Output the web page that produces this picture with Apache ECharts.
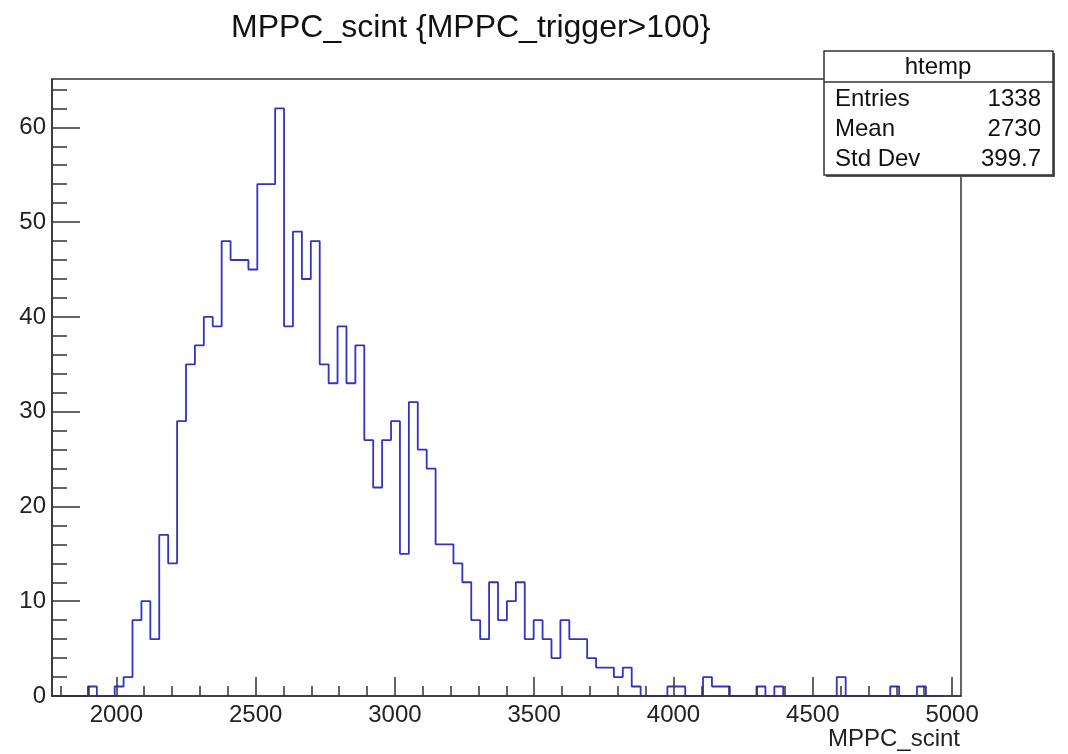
<!DOCTYPE html>
<html>
<head>
<meta charset="utf-8">
<title>MPPC_scint</title>
<script src="https://cdn.jsdelivr.net/npm/echarts@6/dist/echarts.min.js"></script>
<style>
    html, body { margin: 0; padding: 0; background: #fff; }
    #main { width: 1068px; height: 754px; }
</style>
</head>
<body>
<div id="main"></div>
<script>
// histogram binning
var binStart = 1770;
var binWidth = 32;
// counts per bin, 100 bins
var counts = [
    0, 0, 0, 0, 1, 0, 0, 1, 2, 8,
    10, 6, 17, 14, 29, 35, 37, 40, 39, 48,
    46, 46, 45, 54, 54, 62, 39, 49, 44, 48,
    35, 33, 39, 33, 37, 27, 22, 27, 29, 15,
    31, 26, 24, 16, 16, 14, 12, 8, 6, 12,
    8, 10, 12, 6, 8, 6, 4, 8, 6, 6,
    4, 3, 3, 2, 3, 1, 0, 0, 0, 1,
    1, 0, 0, 2, 1, 1, 0, 0, 0, 1,
    0, 1, 0, 0, 0, 0, 0, 0, 2, 0,
    0, 0, 0, 0, 1, 0, 0, 1, 0, 0
];
// axis ticks
var xMajorTicks = [2000, 2500, 3000, 3500, 4000, 4500, 5000];
var xMinorTicks = [1800, 1900, 2000, 2100, 2200, 2300, 2400, 2500, 2600, 2700, 2800, 2900,
    3000, 3100, 3200, 3300, 3400, 3500, 3600, 3700, 3800, 3900, 4000, 4100, 4200, 4300,
    4400, 4500, 4600, 4700, 4800, 4900, 5000];
var yMajorTicks = [0, 10, 20, 30, 40, 50, 60];
var yMinorTicks = [0, 2, 4, 6, 8, 10, 12, 14, 16, 18, 20, 22, 24, 26, 28, 30, 32, 34, 36, 38,
    40, 42, 44, 46, 48, 50, 52, 54, 56, 58, 60, 62, 64];
// stats box
var statNames = ['Entries', 'Mean', 'Std Dev'];
var statValues = ['1338', '2730', '399.7'];

var xMin = 1769, xMax = 5032, yMax = 65.1;
var font = 'Liberation Sans, Arial, Helvetica, sans-serif';
var axisColor = '#333';

// step outline: left edge of each bin, then close at the last right edge
var stepData = counts.map(function (c, i) { return [binStart + i * binWidth, c]; });
stepData.push([binStart + counts.length * binWidth, 0]);

function plain(v) { return String(v); }

function xAxisBase(major) {
    return {
        type: 'value', min: xMin, max: xMax, z: 10,
        position: 'bottom', offset: 0,
        axisLine: { show: major, onZero: false, lineStyle: { color: axisColor, width: 1.5 } },
        splitLine: { show: false },
        axisTick: {
            show: true, inside: true, length: major ? 19 : 10,
            customValues: major ? xMajorTicks : xMinorTicks,
            lineStyle: { color: axisColor, width: 1.5 }
        },
        axisLabel: {
            show: major, customValues: xMajorTicks, margin: 7, formatter: plain,
            fontFamily: font, fontSize: 24, color: '#222'
        }
    };
}
function yAxisBase(major) {
    return {
        type: 'value', min: 0, max: yMax, z: 10,
        position: 'left', offset: 0,
        axisLine: { show: major, onZero: false, lineStyle: { color: axisColor, width: 1.5 } },
        splitLine: { show: false },
        axisTick: {
            show: true, inside: true, length: major ? 28 : 15,
            customValues: major ? yMajorTicks : yMinorTicks,
            lineStyle: { color: axisColor, width: 1.5 }
        },
        axisLabel: {
            show: major, customValues: yMajorTicks, margin: 6, formatter: plain,
            fontFamily: font, fontSize: 24, color: '#222'
        }
    };
}

var statChildren = [
    { type: 'rect', shape: { x: 826, y: 53, width: 229, height: 124 }, style: { fill: '#555' } },
    { type: 'rect', shape: { x: 824, y: 51, width: 229, height: 124 },
      style: { fill: '#fff', stroke: '#333', lineWidth: 1.5 } },
    { type: 'line', shape: { x1: 824, y1: 82, x2: 1053, y2: 82 },
      style: { stroke: '#333', lineWidth: 1.5 } },
    { type: 'text', x: 938, y: 67,
      style: { text: 'htemp', font: '24px ' + font, fill: '#111', align: 'center', verticalAlign: 'middle' } }
];
statNames.forEach(function (n, i) {
    statChildren.push({ type: 'text', x: 835, y: 99 + i * 30,
        style: { text: n, font: '24px ' + font, fill: '#111', align: 'left', verticalAlign: 'middle' } });
    statChildren.push({ type: 'text', x: 1041, y: 99 + i * 30,
        style: { text: statValues[i], font: '24px ' + font, fill: '#111', align: 'right', verticalAlign: 'middle' } });
});

var chart = echarts.init(document.getElementById('main'));
chart.setOption({
    animation: false,
    backgroundColor: '#fff',
    title: {
        text: 'MPPC_scint {MPPC_trigger>100}',
        left: 226, top: 7,
        textStyle: { fontFamily: font, fontSize: 32, fontWeight: 'normal', color: '#111' }
    },
    grid: {
        left: 52, right: 107, top: 79, bottom: 58,
        outerBoundsMode: 'none', containLabel: false,
        show: true, borderColor: axisColor, borderWidth: 1.5, backgroundColor: 'transparent'
    },
    xAxis: [xAxisBase(true), xAxisBase(false)],
    yAxis: [yAxisBase(true), yAxisBase(false)],
    series: [{
        type: 'line',
        xAxisIndex: 0, yAxisIndex: 0,
        step: 'end',
        data: stepData,
        symbol: 'none',
        z: 5,
        lineStyle: { color: '#3232c4', width: 1.8 }
    }],
    graphic: [
        { type: 'group', z: 100, children: statChildren },
        { type: 'text', right: 108, top: 727,
          style: { text: 'MPPC_scint', font: '24px ' + font, fill: '#222' } }
    ]
});
</script>
</body>
</html>
